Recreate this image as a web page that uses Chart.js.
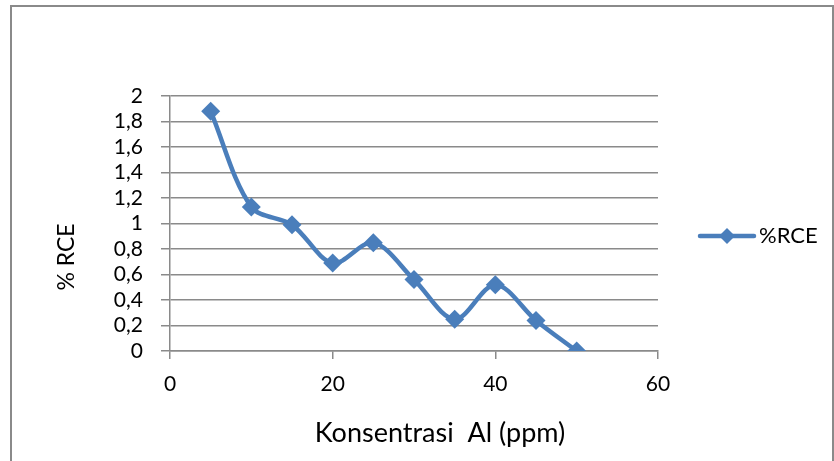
<!DOCTYPE html>
<html>
<head>
<meta charset="utf-8">
<script src="https://cdn.jsdelivr.net/npm/chart.js@4/dist/chart.umd.min.js"></script>
<style>
  html, body { margin: 0; padding: 0; background: #ffffff; }
  #wrap { width: 834px; height: 461px; position: relative; }
</style>
</head>
<body>
<div id="wrap"><canvas id="c" width="834" height="461"></canvas></div>
<script>
const concentrations = [5, 10, 15, 20, 25, 30, 35, 40, 45, 50];
const rceValues = [1.88, 1.13, 0.99, 0.69, 0.85, 0.56, 0.25, 0.52, 0.24, 0.00];
const seriesName = '%RCE';
const xTitle = 'Konsentrasi  Al (ppm)';
const yTitle = '% RCE';
const yTickLabels = ['0', '0,2', '0,4', '0,6', '0,8', '1', '1,2', '1,4', '1,6', '1,8', '2'];
const xTickLabels = ['0', '20', '40', '60'];

const BLUE = '#4a7ebb';
const GRID = '#8a8a8a';
const FONT = 'Lato, "Open Sans", sans-serif';

const decorations = {
  id: 'decorations',
  beforeDraw(chart) {
    const ctx = chart.ctx;
    ctx.save();
    ctx.fillStyle = '#ffffff';
    ctx.fillRect(0, 0, chart.width, chart.height);
    ctx.strokeStyle = '#8a8a8a';
    ctx.lineWidth = 2;
    ctx.strokeRect(11, 6, 822, 520);
    ctx.restore();
  },
  afterDraw(chart) {
    const ctx = chart.ctx;
    ctx.save();
    // axis titles
    ctx.fillStyle = '#000000';
    ctx.textAlign = 'center';
    ctx.textBaseline = 'middle';
    ctx.font = '27px ' + FONT;
    ctx.fillText(xTitle, 440, 433);
    ctx.font = '23px ' + FONT;
    ctx.save();
    ctx.translate(67, 257);
    ctx.rotate(-Math.PI / 2);
    ctx.fillText(yTitle, 0, 0);
    ctx.restore();
    // legend
    const ly = 236;
    ctx.strokeStyle = BLUE;
    ctx.lineWidth = 4.5;
    ctx.lineCap = 'round';
    ctx.beginPath();
    ctx.moveTo(700, ly);
    ctx.lineTo(754, ly);
    ctx.stroke();
    ctx.fillStyle = BLUE;
    ctx.beginPath();
    ctx.moveTo(727, ly - 8);
    ctx.lineTo(735, ly);
    ctx.lineTo(727, ly + 8);
    ctx.lineTo(719, ly);
    ctx.closePath();
    ctx.fill();
    ctx.fillStyle = '#000000';
    ctx.textAlign = 'left';
    ctx.font = '22px ' + FONT;
    ctx.fillText(seriesName, 759, ly);
    ctx.restore();
  }
};

new Chart(document.getElementById('c'), {
  type: 'line',
  data: {
    datasets: [{
      label: seriesName,
      data: concentrations.map((x, i) => ({ x: x, y: rceValues[i] })),
      borderColor: BLUE,
      backgroundColor: BLUE,
      borderWidth: 4.5,
      tension: 0.33,
      pointStyle: 'rectRot',
      pointRadius: 9.5,
      pointHoverRadius: 9.5,
      pointBackgroundColor: BLUE,
      pointBorderColor: BLUE,
      pointBorderWidth: 0,
      fill: false
    }]
  },
  options: {
    responsive: false,
    animation: false,
    devicePixelRatio: 1,
    layout: { padding: { left: 11, right: 176, top: 96, bottom: 0 } },
    plugins: { legend: { display: false }, tooltip: { enabled: false } },
    scales: {
      x: {
        type: 'linear',
        min: 0, max: 60,
        afterFit(s) { s.height = 110; },
        ticks: {
          stepSize: 20,
          padding: 13,
          autoSkip: false,
          color: '#000000',
          font: { family: FONT, size: 21 },
          maxRotation: 0,
          callback(v, i) { return xTickLabels[i]; }
        },
        grid: { drawOnChartArea: false, drawTicks: true, tickLength: 8, color: GRID, lineWidth: 1.5 },
        border: { display: true, color: GRID, width: 1.5 }
      },
      y: {
        min: 0, max: 2,
        afterFit(s) { s.width = 159; },
        ticks: {
          stepSize: 0.2,
          padding: 18,
          autoSkip: false,
          color: '#000000',
          font: { family: FONT, size: 21 },
          callback(v, i) { return yTickLabels[i]; }
        },
        grid: { drawOnChartArea: true, drawTicks: true, tickLength: 9, color: GRID, lineWidth: 1.5 },
        border: { display: true, color: GRID, width: 1.5 }
      }
    }
  },
  plugins: [decorations]
});
</script>
</body>
</html>
